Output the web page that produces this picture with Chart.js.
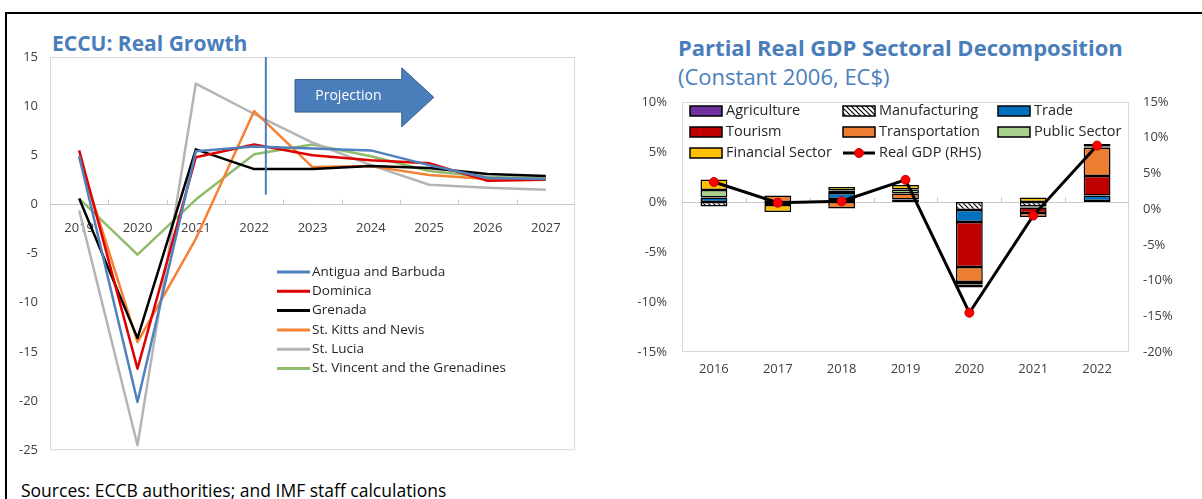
<!DOCTYPE html>
<html lang="en">
<head>
<meta charset="UTF-8">
<title>ECCU growth and sectoral decomposition</title>
<style>
  body { margin: 0; background: #fff; font-family: 'Open Sans', sans-serif; width: 1202px; height: 499px; overflow: hidden; position: relative; }
  #frame { position: absolute; left: 5px; top: 12px; right: -10px; bottom: -10px; border-left: 2px solid #000; border-top: 2px solid #000; }
  canvas { position: absolute; top: 0; }
  #growth { left: 0; }
  #sectors { left: 600px; }
  .ttl { position: absolute; color: #4a7ebb; white-space: nowrap; line-height: 1; }
  #t1 { left: 52px; top: 33px; font-size: 21px; font-weight: bold; }
  #t2 { left: 678px; top: 36px; font-size: 22px; font-weight: bold; }
  #t3 { left: 678px; top: 65px; font-size: 22px; }
  #src { position: absolute; left: 21px; top: 482px; font-size: 17.5px; color: #000; line-height: 1; white-space: nowrap; }
</style>
<script src="https://cdn.jsdelivr.net/npm/chart.js"></script>
</head>
<body>
<div id="frame"></div>
<div class="ttl" id="t1">ECCU: Real Growth</div>
<div class="ttl" id="t2">Partial Real GDP Sectoral Decomposition</div>
<div class="ttl" id="t3">(Constant 2006, EC$)</div>
<div id="src">Sources: ECCB authorities; and IMF staff calculations</div>
<canvas id="growth" width="600" height="470"></canvas>
<canvas id="sectors" width="602" height="392"></canvas>
<script>
// left panel: real growth, percent
const years = ['2019', '2020', '2021', '2022', '2023', '2024', '2025', '2026', '2027'];
const antigua   = [4.9, -20.1, 5.4, 5.9, 5.7, 5.5, 4.0, 2.7, 2.6];
const dominica  = [5.5, -16.7, 4.8, 6.1, 5.0, 4.5, 4.2, 2.4, 2.5];
const grenada   = [0.6, -13.6, 5.6, 3.6, 3.6, 3.9, 3.7, 3.1, 2.9];
const stKitts   = [4.8, -14.0, -3.5, 9.5, 3.8, 3.9, 3.0, 2.6, 2.6];
const stLucia   = [-0.6, -24.5, 12.3, 9.2, 6.3, 4.0, 2.0, 1.7, 1.5];
const stVincent = [0.6, -5.1, 0.5, 5.1, 6.1, 4.9, 3.4, 2.8, 2.7];
const projectionFrom = 3.2; // category index, just after 2022

// right panel: contributions (LHS, %) and real GDP growth (RHS, %)
const sectorYears    = ['2016', '2017', '2018', '2019', '2020', '2021', '2022'];
const agriculture    = [0, 0, 0, 0, 0, 0, 0];
const manufacturing  = [-0.45, 0, 0.3, 0.25, -0.8, -0.45, 0.1];
const trade          = [0.45, -0.3, 0.6, 0, -1.2, -0.1, 0.55];
const tourism        = [0, 0, 0, 0, -4.5, -0.55, 1.95];
const transportation = [0, 0.65, -0.65, 0.6, -1.5, -0.4, 2.85];
const publicSector   = [0.75, 0, 0.25, 0.4, -0.25, 0, 0.1];
const financial      = [1.05, -0.7, 0.35, 0.45, -0.3, 0.45, 0.25];
const realGdp        = [3.8, 0.9, 1.1, 4.1, -14.5, -0.9, 8.9];

Chart.defaults.font.family = "'Open Sans', sans-serif";
Chart.defaults.color = '#404040';

// light box round the plot area, zero line and the little ticks on it
const plotBox = {
  id: 'plotBox',
  beforeDatasetsDraw(chart) {
    const a = chart.chartArea, ctx = chart.ctx;
    const x = chart.scales.x, y = chart.scales.y;
    const y0 = Math.round(y.getPixelForValue(0)) + 0.5;
    ctx.save();
    ctx.lineWidth = 1;
    ctx.strokeStyle = '#d9d9d9';
    ctx.strokeRect(a.left + 0.5, a.top + 0.5, a.width - 1, a.height - 1);
    ctx.beginPath();
    ctx.moveTo(a.left, y0);
    ctx.lineTo(a.right, y0);
    for (let i = 0; i < chart.data.labels.length - 1; i++) {
      const px = Math.round(x.getPixelForValue(i + 0.5)) + 0.5;
      ctx.moveTo(px, y0);
      ctx.lineTo(px, y0 - 5);
    }
    ctx.strokeStyle = '#c8c8c8';
    ctx.stroke();
    ctx.restore();
  }
};

// projection marker and arrow
const projection = {
  id: 'projection',
  afterDatasetsDraw(chart) {
    const {ctx, scales: {x, y}} = chart;
    const X = v => x.getPixelForValue(v), Y = v => y.getPixelForValue(v);
    ctx.save();
    ctx.strokeStyle = '#4a7ebb';
    ctx.lineWidth = 2;
    ctx.beginPath();
    ctx.moveTo(X(projectionFrom), Y(15));
    ctx.lineTo(X(projectionFrom), Y(1));
    ctx.stroke();

    ctx.beginPath();
    ctx.moveTo(X(3.7), Y(12.7));
    ctx.lineTo(X(5.53), Y(12.7));
    ctx.lineTo(X(5.53), Y(13.9));
    ctx.lineTo(X(6.08), Y(10.9));
    ctx.lineTo(X(5.53), Y(7.9));
    ctx.lineTo(X(5.53), Y(9.4));
    ctx.lineTo(X(3.7), Y(9.4));
    ctx.closePath();
    ctx.fillStyle = '#4a7ebb';
    ctx.fill();
    ctx.strokeStyle = '#385d8a';
    ctx.lineWidth = 1;
    ctx.stroke();

    ctx.fillStyle = '#fff';
    ctx.font = "14px 'Open Sans'";
    ctx.textAlign = 'center';
    ctx.textBaseline = 'middle';
    ctx.fillText('Projection', (X(3.7) + X(5.53)) / 2, (Y(12.7) + Y(9.4)) / 2);
    ctx.restore();
  }
};

// one-column legend inside the growth chart
const lineLegend = {
  id: 'lineLegend',
  afterDraw(chart) {
    const {ctx, chartArea: a} = chart;
    ctx.save();
    ctx.font = "13.5px 'Open Sans'";
    ctx.textBaseline = 'middle';
    chart.data.datasets.forEach((ds, i) => {
      const yy = a.top + 215 + i * 19.3;
      const xx = a.left + 227;
      ctx.strokeStyle = ds.borderColor;
      ctx.lineWidth = 3;
      ctx.beginPath();
      ctx.moveTo(xx, yy);
      ctx.lineTo(xx + 33, yy);
      ctx.stroke();
      ctx.fillStyle = '#262626';
      ctx.fillText(ds.label, xx + 35, yy);
    });
    ctx.restore();
  }
};

// three-column legend inside the sector chart
const barLegend = {
  id: 'barLegend',
  afterDraw(chart) {
    const {ctx, chartArea: a} = chart;
    const cols = [8, 161, 316];
    ctx.save();
    ctx.font = "14.5px 'Open Sans'";
    ctx.textBaseline = 'middle';
    chart.data.datasets.forEach((ds, i) => {
      const xx = a.left + cols[i % 3];
      const yy = a.top + 9 + Math.floor(i / 3) * 21;
      if (ds.type === 'line') {
        ctx.strokeStyle = '#000';
        ctx.lineWidth = 3;
        ctx.beginPath();
        ctx.moveTo(xx, yy);
        ctx.lineTo(xx + 32, yy);
        ctx.stroke();
        ctx.beginPath();
        ctx.arc(xx + 16, yy, 4.5, 0, Math.PI * 2);
        ctx.fillStyle = ds.pointBackgroundColor;
        ctx.fill();
        ctx.strokeStyle = ds.pointBorderColor;
        ctx.lineWidth = 1;
        ctx.stroke();
      } else {
        ctx.fillStyle = ds.backgroundColor;
        ctx.fillRect(xx, yy - 5, 32, 10);
        ctx.strokeStyle = '#000';
        ctx.lineWidth = 1.5;
        ctx.strokeRect(xx, yy - 5, 32, 10);
      }
      ctx.fillStyle = '#262626';
      ctx.fillText(ds.label, xx + 36, yy);
    });
    ctx.restore();
  }
};

function line(label, data, color) {
  return { label, data, borderColor: color, backgroundColor: color };
}

const noGrid = { display: false, drawTicks: false, tickLength: 0 };

new Chart(document.getElementById('growth'), {
  type: 'line',
  data: {
    labels: years,
    datasets: [
      line('Antigua and Barbuda', antigua, '#4f81bd'),
      line('Dominica', dominica, '#e00000'),
      line('Grenada', grenada, '#000000'),
      line('St. Kitts and Nevis', stKitts, '#f58232'),
      line('St. Lucia', stLucia, '#b4b4b4'),
      line('St. Vincent and the Grenadines', stVincent, '#8fbc6a')
    ]
  },
  options: {
    responsive: false,
    animation: false,
    layout: { padding: { top: 57, right: 25, bottom: 15, left: 0 } },
    elements: {
      point: { radius: 0 },
      line: { borderWidth: 2.5, tension: 0, borderJoinStyle: 'round' }
    },
    plugins: { legend: { display: false }, tooltip: { enabled: false } },
    scales: {
      x: {
        position: { y: 0 },
        offset: true,
        grid: noGrid,
        border: { display: false },
        ticks: { padding: 16, font: { size: 13 } }
      },
      y: {
        min: -25, max: 15,
        ticks: { stepSize: 5, padding: 12, font: { size: 13 } },
        grid: noGrid,
        border: { display: false },
        afterFit: s => { s.width = 50; }
      }
    }
  },
  plugins: [plotBox, projection, lineLegend]
});

// white with black diagonal stripes for manufacturing
const sectorCtx = document.getElementById('sectors').getContext('2d');
const tile = document.createElement('canvas');
tile.width = 5; tile.height = 5;
const tg = tile.getContext('2d');
tg.fillStyle = '#fff';
tg.fillRect(0, 0, 5, 5);
tg.strokeStyle = '#000';
tg.lineWidth = 1.2;
tg.beginPath();
tg.moveTo(0, 0); tg.lineTo(5, 5);
tg.moveTo(-1, 4); tg.lineTo(1, 6);
tg.moveTo(4, -1); tg.lineTo(6, 1);
tg.stroke();
const hatch = sectorCtx.createPattern(tile, 'repeat');

function bar(label, data, color) {
  return {
    type: 'bar', label, data, backgroundColor: color,
    borderColor: '#000', borderWidth: 1.5, borderSkipped: false,
    barPercentage: 0.42, categoryPercentage: 1, order: 1
  };
}

new Chart(sectorCtx, {
  type: 'bar',
  data: {
    labels: sectorYears,
    datasets: [
      bar('Agriculture', agriculture, '#7030a0'),
      bar('Manufacturing', manufacturing, hatch),
      bar('Trade', trade, '#0070c0'),
      bar('Tourism', tourism, '#c00000'),
      bar('Transportation', transportation, '#ed7d31'),
      bar('Public Sector', publicSector, '#a9d18e'),
      bar('Financial Sector', financial, '#ffc000'),
      {
        type: 'line', label: 'Real GDP (RHS)', data: realGdp, yAxisID: 'y1', order: 0,
        borderColor: '#000', borderWidth: 3, tension: 0,
        pointRadius: 4.5, pointBackgroundColor: '#ff0000', pointBorderColor: '#c00000', pointBorderWidth: 1
      }
    ]
  },
  options: {
    responsive: false,
    animation: false,
    layout: { padding: { top: 102, right: 0, bottom: 0, left: 0 } },
    plugins: { legend: { display: false }, tooltip: { enabled: false } },
    scales: {
      x: {
        stacked: true,
        grid: noGrid,
        border: { display: false },
        ticks: { padding: 9, font: { size: 13 } },
        afterFit: s => { s.height = 40; }
      },
      y: {
        stacked: true,
        min: -15, max: 10,
        ticks: { stepSize: 5, padding: 15, font: { size: 13 }, callback: v => v + '%' },
        grid: noGrid,
        border: { display: false },
        afterFit: s => { s.width = 82; }
      },
      y1: {
        position: 'right',
        min: -20, max: 15,
        ticks: { stepSize: 5, padding: 14, font: { size: 13 }, callback: v => v + '%' },
        grid: noGrid,
        border: { display: false },
        afterFit: s => { s.width = 73; }
      }
    }
  },
  plugins: [plotBox, barLegend]
});
</script>
</body>
</html>
